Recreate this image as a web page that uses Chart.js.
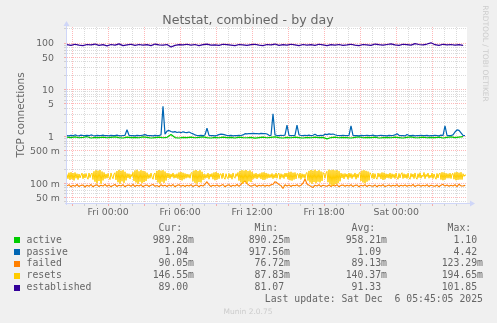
<!DOCTYPE html>
<html>
<head>
<meta charset="utf-8">
<script src="https://cdn.jsdelivr.net/npm/chart.js@4/dist/chart.umd.min.js"></script>
<style>
  html, body { margin: 0; padding: 0; background: #f0f0f0; }
  #wrap { width: 497px; height: 323px; }
</style>
</head>
<body>
<div id="wrap"><canvas id="netstat" width="497" height="323"></canvas></div>
<script>
// Munin "Netstat, combined - by day", 5 series on a log axis.
// x is minutes relative to Fri 00:00.
const xStart = -206;
const xEnd = 1794;
const stepResets = 5;  // resets
const stepFine = 10;   // passive, failed
const stepCoarse = 20; // active, established

const xTickValues = [0, 360, 720, 1080, 1440];
const xTickLabels = ['Fri 00:00', 'Fri 06:00', 'Fri 12:00', 'Fri 18:00', 'Sat 00:00'];

const yMin = 0.0378;
const yMax = 220;
const yMajorValues = [0.05, 0.1, 0.5, 1, 5, 10, 50, 100];
const yMajorLabels = ['50 m', '100 m', '500 m', '1  ', '5  ', '10  ', '50  ', '100  '];

const seriesNames = ['active', 'passive', 'failed', 'resets', 'established'];
const seriesColors = ['#00CC00', '#0066B3', '#FF8000', '#FFCC00', '#330099'];
const seriesWidths = [1.2, 1.2, 1.1, 1, 1.2];
const curText = ['989.28m', '1.04 ', '90.05m', '146.55m', '89.00 '];
const minText = ['890.25m', '917.56m', '76.72m', '87.83m', '81.07 '];
const avgText = ['958.21m', '1.09 ', '89.13m', '140.37m', '91.33 '];
const maxText = ['1.10 ', '4.42 ', '123.29m', '194.65m', '101.85 '];

const active = [
  .97,.95,.98,.94,.96,.99,.93,.96,.95,.97,
  .94,.96,.98,.95,.93,.97,.95,.96,.94,.98,
  .96,.93,.95,.97,.94,.96,1.10,.95,.93,.96,
  .95,.97,.94,.96,.98,.95,.93,.96,.94,.97,
  .95,.96,.93,.97,.95,.94,.96,.92,.95,.97,
  .94,.96,.98,.95,.93,.96,.94,.97,.95,.93,
  .96,.94,.97,.95,.96,.89,.95,.97,.94,.96,
  .95,.93,.96,.98,.94,.96,.95,.97,.93,.95,
  .96,.94,.97,.95,.93,.96,.98,.94,.95,.97,
  .94,.96,.95,.97,.93,.96,.98,.95,.97,.99
];

const passive = [
  1.05,1.03,1.06,1.04,1.08,1.05,1.03,1.07,1.05,1.04,
  1.06,1.04,1.08,1.05,1.03,1.06,1.04,1.05,1.07,1.04,
  1.05,1.03,1.06,1.04,1.05,1.07,1.04,1.03,1.05,1.06,
  1.39,1.06,1.04,1.05,1.03,1.06,1.04,1.05,1.07,1.10,
  1.06,1.04,1.05,1.03,1.06,1.04,1.05,1.08,4.42,1.12,
  1.30,1.35,1.28,1.24,1.27,1.22,1.25,1.20,1.26,1.23,
  1.21,1.25,1.19,1.14,1.08,1.05,1.04,1.06,1.04,1.08,
  1.50,1.06,1.04,1.05,1.03,1.06,1.10,1.12,1.11,1.08,
  1.05,1.04,1.06,1.03,1.05,1.04,1.06,1.05,1.08,1.15,
  1.14,1.16,1.15,1.17,1.15,1.16,1.14,1.17,1.15,1.16,
  1.13,1.06,1.05,3.04,1.08,1.05,1.04,1.06,1.05,1.07,
  1.76,1.06,1.04,1.05,1.06,1.76,1.08,1.05,1.04,1.06,
  1.05,1.07,1.04,1.06,1.12,1.05,1.04,1.06,1.05,1.12,
  1.10,1.14,1.11,1.13,1.09,1.06,1.05,1.04,1.06,1.05,
  1.04,1.06,1.69,1.06,1.04,1.05,1.03,1.06,1.04,1.05,
  1.06,1.04,1.05,1.07,1.04,1.03,1.05,1.06,1.04,1.05,
  1.03,1.06,1.04,1.05,1.08,1.15,1.06,1.04,1.05,1.03,
  1.10,1.05,1.04,1.06,1.03,1.05,1.04,1.06,1.05,1.04,
  1.06,1.03,1.05,1.04,1.06,1.05,1.03,1.07,1.05,1.69,
  1.06,1.04,1.05,1.08,1.25,1.39,1.35,1.20,1.06,1.04
];

const failed = [
  .088,.093,.084,.091,.086,.094,.085,.090,.092,.083,
  .091,.086,.094,.084,.090,.093,.085,.091,.087,.095,
  .086,.092,.084,.090,.094,.085,.091,.087,.093,.084,
  .090,.092,.086,.094,.085,.091,.087,.093,.084,.090,
  .092,.085,.091,.094,.086,.090,.084,.093,.087,.091,
  .085,.092,.087,.094,.084,.090,.093,.086,.091,.085,
  .091,.087,.093,.085,.090,.092,.084,.091,.087,.096,
  .108,.093,.085,.091,.087,.092,.086,.090,.094,.084,
  .090,.093,.085,.091,.087,.094,.086,.095,.105,.112,
  .098,.091,.086,.090,.093,.085,.091,.087,.092,.086,
  .091,.087,.093,.095,.108,.102,.094,.089,.077,.093,
  .087,.092,.085,.091,.088,.093,.086,.091,.100,.123,
  .096,.091,.085,.081,.091,.087,.093,.085,.091,.088,
  .086,.092,.085,.091,.087,.093,.084,.090,.092,.086,
  .091,.087,.093,.085,.090,.092,.084,.091,.087,.093,
  .085,.091,.088,.086,.092,.084,.091,.087,.093,.085,
  .088,.092,.086,.091,.087,.093,.085,.091,.087,.092,
  .086,.091,.087,.094,.085,.090,.092,.086,.091,.087,
  .093,.085,.091,.088,.086,.092,.084,.091,.095,.087,
  .092,.086,.091,.087,.093,.085,.096,.088,.087,.090
];

const resets = [
  .155,.125,.168,.118,.172,.122,.165,.115,.170,.128,.160,.120,.158,.130,.148,.165,.125,.158,.130,.162,
  .135,.122,.165,.132,.155,.165,.120,.180,.108,.190,.100,.186,.112,.192,.098,.178,.115,.170,.125,.158,
  .128,.162,.135,.120,.166,.138,.125,.158,.168,.118,.182,.105,.193,.098,.185,.110,.190,.102,.176,.115,
  .162,.130,.160,.124,.155,.138,.172,.112,.188,.104,.194,.097,.180,.108,.190,.100,.184,.106,.178,.112,
  .168,.125,.155,.128,.165,.135,.122,.158,.166,.118,.184,.104,.192,.098,.186,.108,.190,.102,.178,.114,
  .165,.130,.162,.125,.158,.135,.166,.128,.155,.130,.160,.125,.170,.118,.174,.115,.168,.122,.162,.128,
  .158,.132,.155,.128,.162,.172,.110,.186,.102,.192,.098,.182,.106,.190,.104,.176,.118,.158,.126,.155,
  .130,.165,.122,.158,.135,.162,.122,.170,.116,.174,.120,.166,.125,.158,.158,.126,.165,.132,.122,.160,
  .135,.125,.162,.130,.156,.122,.166,.135,.128,.160,.140,.170,.114,.184,.104,.190,.098,.186,.108,.192,
  .100,.182,.110,.188,.106,.175,.122,.160,.128,.165,.124,.158,.132,.162,.124,.170,.118,.172,.120,.166,
  .126,.160,.130,.155,.132,.162,.125,.155,.130,.166,.128,.158,.164,.122,.160,.132,.155,.126,.165,.136,
  .165,.122,.172,.116,.176,.114,.168,.120,.170,.124,.160,.158,.128,.165,.122,.160,.132,.156,.126,.162,
  .170,.114,.184,.104,.192,.098,.186,.106,.194,.100,.182,.108,.190,.104,.178,.112,.170,.158,.128,.165,
  .180,.105,.1947,.094,.190,.0878,.194,.092,.188,.096,.192,.100,.182,.110,.165,.130,.160,.124,.162,.135,
  .158,.122,.165,.132,.162,.126,.155,.135,.166,.122,.158,.132,.162,.172,.112,.186,.104,.190,.100,.184,
  .108,.178,.115,.168,.155,.128,.164,.124,.160,.132,.122,.165,.135,.162,.124,.170,.118,.168,.122,.160,
  .130,.158,.128,.166,.124,.160,.132,.156,.126,.165,.135,.122,.162,.130,.157,.168,.126,.160,.130,.156,
  .126,.164,.132,.122,.162,.135,.158,.126,.166,.132,.122,.160,.132,.168,.128,.150,.138,.170,.125,.155,
  .138,.165,.128,.150,.132,.165,.126,.158,.135,.122,.162,.130,.158,.166,.120,.172,.116,.170,.120,.164,
  .128,.160,.128,.165,.126,.158,.162,.122,.170,.116,.174,.118,.168,.120,.172,.120,.160,.140,.152,.1466
];

const established = [
  92,89,94,90,88,93,91,95,89,92,
  87,93,90,96,88,91,94,89,93,90,
  92,88,95,91,90,93,82,89,92,91,
  94,90,93,88,92,95,90,91,89,94,
  92,90,88,93,91,89,92,94,90,88,
  93,91,95,89,92,90,94,91,88,93,
  90,92,89,94,91,88,92,90,93,89,
  91,94,90,88,93,91,89,95,92,90,
  93,96,91,89,94,92,90,97,93,91,
  95,101,92,89,94,91,93,90,92,89
];

const toPoints = (vals, step) => vals.map((v, i) => ({ x: xStart + i * step, y: v }));

const gridColor = 'rgba(150,150,150,0.35)';
const mgridColor = 'rgba(255,0,0,0.28)';
const axisColor = '#CFD6F8';
const fontColor = '#666666';

const seriesData = [
  toPoints(active, stepCoarse),
  toPoints(passive, stepFine),
  toPoints(failed, stepFine),
  toPoints(resets, stepResets),
  toPoints(established, stepCoarse),
];

const muninFrame = {
  id: 'muninFrame',
  beforeDraw(chart) {
    const { ctx, chartArea: a } = chart;
    ctx.save();
    ctx.fillStyle = '#f0f0f0';
    ctx.fillRect(0, 0, chart.width, chart.height);
    ctx.fillStyle = '#ffffff';
    ctx.fillRect(a.left, a.top, a.right - a.left, a.bottom - a.top);
    ctx.restore();
  },
  afterDatasetsDraw(chart) {
    const { ctx, chartArea: a } = chart;
    ctx.save();
    ctx.strokeStyle = axisColor;
    ctx.fillStyle = axisColor;
    ctx.lineWidth = 1;
    ctx.beginPath();
    ctx.moveTo(a.left - 0.5, a.bottom + 2);
    ctx.lineTo(a.left - 0.5, a.top - 3);
    ctx.moveTo(a.left - 2, a.bottom + 0.5);
    ctx.lineTo(a.right + 4, a.bottom + 0.5);
    ctx.stroke();
    // arrows
    ctx.beginPath();
    ctx.moveTo(a.left - 0.5, a.top - 6);
    ctx.lineTo(a.left - 3.5, a.top - 1);
    ctx.lineTo(a.left + 2.5, a.top - 1);
    ctx.closePath();
    ctx.fill();
    ctx.beginPath();
    ctx.moveTo(a.right + 8, a.bottom + 0.5);
    ctx.lineTo(a.right + 3, a.bottom - 2.5);
    ctx.lineTo(a.right + 3, a.bottom + 3.5);
    ctx.closePath();
    ctx.fill();
    ctx.restore();
  },
  afterDraw(chart) {
    const { ctx } = chart;
    ctx.save();
    ctx.fillStyle = fontColor;
    ctx.textBaseline = 'alphabetic';
    ctx.textAlign = 'center';
    ctx.font = '12.6px "DejaVu Sans"';
    ctx.fillText('Netstat, combined - by day', 248, 23.5);

    // y axis title
    ctx.save();
    ctx.translate(23.5, 115);
    ctx.rotate(-Math.PI / 2);
    ctx.font = '10.4px "DejaVu Sans"';
    ctx.fillText('TCP connections', 0, 0);
    ctx.restore();

    // watermark
    ctx.save();
    ctx.fillStyle = '#cccccc';
    ctx.translate(485, 53.5);
    ctx.rotate(Math.PI / 2);
    ctx.font = '7.5px "DejaVu Sans"';
    ctx.textBaseline = 'middle';
    ctx.fillText('RRDTOOL / TOBI OETIKER', 0, 0);
    ctx.restore();

    // legend table
    ctx.font = '9.8px "DejaVu Sans Mono"';
    ctx.textBaseline = 'middle';
    const charW = ctx.measureText('0').width;
    const colRight = [194, 290, 387, 483];
    const headers = ['Cur:', 'Min:', 'Avg:', 'Max:'];
    ctx.textAlign = 'right';
    headers.forEach((h, k) => ctx.fillText(h, colRight[k] - 2 * charW, 228));
    const rowY0 = 240.3;
    const rowH = 11.8;
    seriesNames.forEach((name, r) => {
      const y = rowY0 + r * rowH;
      ctx.fillStyle = seriesColors[r];
      ctx.fillRect(14, Math.round(y) - 3, 6, 6);
      ctx.fillStyle = fontColor;
      ctx.textAlign = 'left';
      ctx.fillText(name, 26.5, y);
      ctx.textAlign = 'right';
      [curText, minText, avgText, maxText].forEach((col, k) => {
        ctx.fillText(col[r], colRight[k], y);
      });
    });
    ctx.fillText('Last update: Sat Dec  6 05:45:05 2025', 483, rowY0 + 5 * rowH);

    ctx.textAlign = 'center';
    ctx.fillStyle = '#cccccc';
    ctx.font = '7.5px "DejaVu Sans"';
    ctx.fillText('Munin 2.0.75', 248, 312);
    ctx.restore();
  }
};

new Chart(document.getElementById('netstat'), {
  type: 'line',
  data: {
    datasets: seriesNames.map((name, i) => ({
      label: name,
      data: seriesData[i],
      borderColor: seriesColors[i],
      backgroundColor: seriesColors[i],
      borderWidth: seriesWidths[i],
      borderJoinStyle: 'bevel',
      pointRadius: 0,
      tension: 0,
      fill: false,
      order: seriesNames.length - 1 - i,
    })),
  },
  options: {
    responsive: false,
    devicePixelRatio: 1,
    animation: false,
    layout: { padding: { top: 27, right: 30, left: 0, bottom: 0 } },
    plugins: { legend: { display: false }, tooltip: { enabled: false } },
    scales: {
      x: {
        type: 'linear',
        min: xStart,
        max: xEnd,
        afterFit: (s) => { s.height = 120; },
        afterBuildTicks: (s) => {
          const t = [];
          for (let v = -180; v <= 1740; v += 60) t.push({ value: v });
          s.ticks = t;
        },
        ticks: {
          autoSkip: false,
          maxRotation: 0,
          minRotation: 0,
          padding: 1,
          color: fontColor,
          font: { family: 'DejaVu Sans', size: 9.4 },
          callback: (v) => {
            const k = xTickValues.indexOf(v);
            return k >= 0 ? xTickLabels[k] : '';
          },
        },
        grid: {
          color: (c) => (c.tick && c.tick.value % 180 === 0 ? mgridColor : gridColor),
          tickLength: 3,
          lineWidth: 1,
        },
        border: { display: false, dash: [1, 1] },
      },
      y: {
        type: 'logarithmic',
        min: yMin,
        max: yMax,
        afterFit: (s) => { s.width = 67; },
        afterBuildTicks: (s) => {
          const t = [];
          [0.01, 0.1, 1, 10, 100].forEach((d) => {
            for (let m = 1; m <= 9; m++) {
              const v = Number((m * d).toPrecision(3));
              if (v >= yMin && v <= yMax) t.push({ value: v });
            }
          });
          s.ticks = t;
        },
        ticks: {
          autoSkip: false,
          padding: 4,
          labelOffset: 1,
          color: fontColor,
          font: { family: 'DejaVu Sans', size: 9.4 },
          callback: (v) => {
            const k = yMajorValues.indexOf(Number(Number(v).toPrecision(3)));
            return k >= 0 ? yMajorLabels[k] : '';
          },
        },
        grid: {
          color: (c) => {
            if (!c.tick) return gridColor;
            const v = Number(Number(c.tick.value).toPrecision(3));
            return yMajorValues.includes(v) ? mgridColor : gridColor;
          },
          tickLength: 3,
          lineWidth: 1,
        },
        border: { display: false, dash: [1, 1] },
      },
    },
  },
  plugins: [muninFrame],
});
</script>
</body>
</html>
